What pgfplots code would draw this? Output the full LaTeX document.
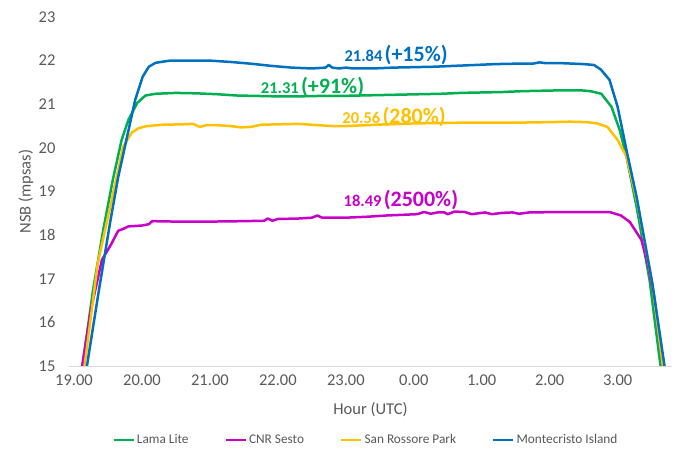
\documentclass[border=0pt]{standalone}
\usepackage{fontspec}
\setmainfont{Carlito}
\usepackage{pgfplots}
\pgfplotsset{compat=1.18}
\definecolor{cgreen}{HTML}{00B050}
\definecolor{cmag}{HTML}{C800C8}
\definecolor{cyel}{HTML}{FFC000}
\definecolor{cblue}{HTML}{0070C0}
\definecolor{txtgray}{HTML}{595959}
\definecolor{axgray}{HTML}{D9D9D9}
\begin{document}
\begin{tikzpicture}
\useasboundingbox (-69pt,-83pt) rectangle (608pt,366pt);
\begin{axis}[
  scale only axis, width=603pt, height=349pt,
  xmin=18.926, xmax=27.8, ymin=15, ymax=23,
  axis x line*=bottom, axis y line*=left,
  x axis line style={draw=axgray, line width=0.8pt},
  y axis line style={draw=none},
  major tick length=0pt,
  xtick={19,20,21,22,23,24,25,26,27},
  xticklabels={19.00,20.00,21.00,22.00,23.00,0.00,1.00,2.00,3.00},
  ytick={15,16,17,18,19,20,21,22,23},
  /pgf/number format/assume math mode=true,
  tick label style={font=\fontsize{16.5}{20}\selectfont, text=txtgray},
  yticklabel style={xshift=-10pt},
  xticklabel style={yshift=-5pt},
  xlabel={Hour (UTC)}, ylabel={NSB (mpsas)},
  label style={font=\fontsize{16.5}{20}\selectfont, text=txtgray},
  x label style={at={(axis description cs:0.5,-0.126)}, anchor=center},
  y label style={at={(axis description cs:-0.0713,0.5)}, anchor=center},
  clip=true,
  legend columns=4,
  legend style={at={(axis description cs:0.4925,-0.212)}, anchor=center, draw=none,
    font=\fontsize{13.3}{16}\selectfont, text=txtgray,
    /tikz/every even column/.append style={column sep=34pt}},
  legend image code/.code={\draw[#1, line width=2.5pt] (0pt,0pt) -- (20pt,0pt);},
  every axis plot/.append style={line width=2.5pt, line join=round},
]
\addplot[cgreen] coordinates {
(19.08,14.5)(19.13,15.07)(19.28,16.74)(19.43,18.12)(19.57,19.26)(19.70,20.18)(19.80,20.64)
(19.93,21.03)(20.05,21.20)(20.2,21.24)(20.5,21.26)(20.8,21.25)(21.1,21.23)(21.4,21.20)
(21.7,21.19)(22.0,21.18)(22.3,21.18)(22.6,21.19)(22.9,21.19)(23.2,21.20)(23.5,21.21)
(23.8,21.22)(24.1,21.23)(24.4,21.24)(24.7,21.26)(25.0,21.27)(25.3,21.28)(25.6,21.30)
(25.9,21.31)(26.2,21.32)(26.45,21.32)(26.6,21.30)(26.76,21.24)(26.91,20.94)(27.03,20.41)
(27.13,19.8)(27.28,18.64)(27.47,16.97)(27.62,15.14)(27.66,14.7)
};
\addlegendentry{Lama Lite}
\addplot[cmag] coordinates {
(19.08,14.6)(19.12,15.0)(19.25,16.3)(19.41,17.43)(19.55,17.8)(19.65,18.10)(19.72,18.14)
(19.80,18.20)(20.0,18.22)(20.1,18.25)(20.15,18.32)(20.5,18.31)(21.0,18.31)(21.5,18.32)
(21.8,18.33)(21.85,18.38)(21.92,18.33)(22.0,18.37)(22.3,18.38)(22.5,18.40)(22.58,18.45)
(22.65,18.40)(23.0,18.40)(23.3,18.42)(23.6,18.45)(23.9,18.47)(24.05,18.48)(24.15,18.53)
(24.25,18.49)(24.35,18.52)(24.45,18.52)(24.5,18.48)(24.6,18.54)(24.75,18.53)(24.85,18.48)
(24.95,18.50)(25.05,18.52)(25.15,18.48)(25.3,18.51)(25.45,18.52)(25.55,18.49)(25.7,18.52)
(25.85,18.52)(26.0,18.53)(26.3,18.53)(26.6,18.53)(26.88,18.53)(27.05,18.45)(27.18,18.30)
(27.35,17.89)(27.44,17.36)(27.54,16.58)(27.66,15.07)(27.68,14.8)
};
\addlegendentry{CNR Sesto}
\addplot[cyel] coordinates {
(19.11,14.5)(19.16,15.07)(19.35,17.36)(19.53,18.64)(19.65,19.49)(19.72,20.02)(19.85,20.35)
(19.95,20.45)(20.07,20.50)(20.3,20.53)(20.6,20.54)(20.75,20.55)(20.85,20.48)(20.95,20.52)
(21.1,20.52)(21.3,20.50)(21.45,20.47)(21.6,20.48)(21.75,20.53)(22.0,20.54)(22.3,20.55)
(22.5,20.53)(22.8,20.50)(23.0,20.50)(23.3,20.52)(23.6,20.54)(24.0,20.56)(24.4,20.57)
(24.8,20.58)(25.2,20.58)(25.6,20.58)(26.0,20.59)(26.3,20.60)(26.55,20.59)(26.7,20.56)
(26.85,20.48)(27.0,20.18)(27.13,19.8)(27.29,18.74)(27.51,16.9)(27.66,15.07)(27.70,14.7)
};
\addlegendentry{San Rossore Park}
\addplot[cblue] coordinates {
(19.14,14.5)(19.19,15.0)(19.35,16.58)(19.53,18.28)(19.65,19.33)(19.78,20.25)(19.90,21.10)
(20.01,21.63)(20.10,21.86)(20.20,21.95)(20.41,22.00)(20.7,22.00)(21.0,22.00)(21.3,21.97)
(21.6,21.93)(21.9,21.88)(22.2,21.84)(22.5,21.82)(22.7,21.84)(22.75,21.90)(22.8,21.84)
(22.9,21.82)(23.0,21.84)(23.1,21.82)(23.4,21.82)(23.7,21.84)(24.0,21.85)(24.3,21.86)
(24.6,21.88)(24.9,21.90)(25.2,21.92)(25.5,21.93)(25.75,21.93)(25.85,21.96)(25.95,21.94)
(26.2,21.94)(26.5,21.92)(26.65,21.90)(26.75,21.80)(26.88,21.56)(27.0,20.94)(27.13,19.95)
(27.28,18.87)(27.51,16.9)(27.69,15.0)(27.74,14.5)
};
\addlegendentry{Montecristo Island}
\node[text=cblue, font=\bfseries] at (axis cs:23.74,22.13)
  {{\fontsize{16.5}{20}\selectfont 21.84} {\fontsize{22}{26}\selectfont (+15\%)}};
\node[text=cgreen, font=\bfseries] at (axis cs:22.51,21.40)
  {{\fontsize{16.5}{20}\selectfont 21.31} {\fontsize{22}{26}\selectfont (+91\%)}};
\node[text=cyel, font=\bfseries] at (axis cs:23.71,20.71)
  {{\fontsize{16.5}{20}\selectfont 20.56} {\fontsize{22}{26}\selectfont (280\%)}};
\node[text=cmag, font=\bfseries] at (axis cs:23.81,18.80)
  {{\fontsize{16.5}{20}\selectfont 18.49} {\fontsize{22}{26}\selectfont (2500\%)}};
\end{axis}
\end{tikzpicture}
\end{document}
